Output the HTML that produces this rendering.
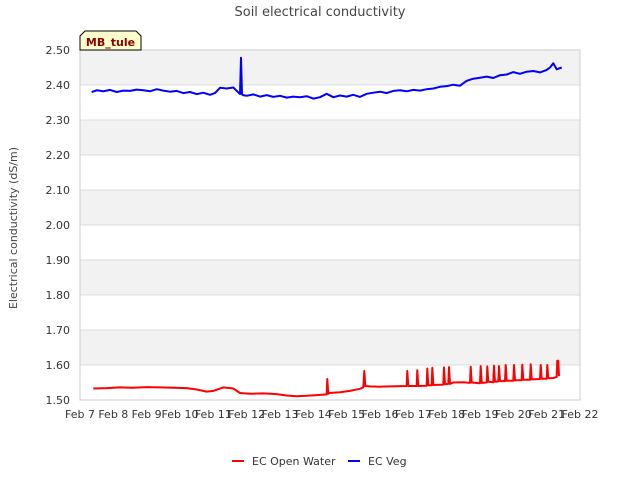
<!DOCTYPE html>
<html><head><meta charset="utf-8"><style>
body{margin:0;background:#fff;font-family:"DejaVu Sans","Liberation Sans",sans-serif;}
svg text{font-family:"DejaVu Sans","Liberation Sans",sans-serif;}
</style></head><body>
<svg id="chart" width="640" height="480" xmlns="http://www.w3.org/2000/svg">
<text x="320" y="16" text-anchor="middle" font-size="13" fill="#444">Soil electrical conductivity</text>
<g id="bands"></g><g id="grid"></g><g id="xticks"></g><g id="yticks"></g>
<rect x="80" y="50" width="500" height="350" fill="none" stroke="#ccc"/>
<g id="series"></g>
<text transform="translate(17,228) rotate(-90)" text-anchor="middle" font-size="11" fill="#444">Electrical conductivity (dS/m)</text>
<g>
<path d="M80,50 L80,36 L85,31 L136,31 L141,36 L141,50 Z" fill="#ffffcc" stroke="#000" stroke-width="1"/>
<text x="110.5" y="46" text-anchor="middle" font-size="11" font-weight="bold" fill="#8b0000">MB_tule</text>
</g>
<g>
<g><line x1="232" y1="461" x2="244" y2="461" stroke="#f00" stroke-width="2"/><text x="252" y="465" font-size="11" fill="#333">EC Open Water</text></g>
<g><line x1="348" y1="461" x2="360" y2="461" stroke="#00f" stroke-width="2"/><text x="368" y="465" font-size="11" fill="#333">EC Veg</text></g>
</g>
</svg>
<script>
const xTickLabels=["Feb 7","Feb 8","Feb 9","Feb 10","Feb 11","Feb 12","Feb 13","Feb 14","Feb 15","Feb 16","Feb 17","Feb 18","Feb 19","Feb 20","Feb 21","Feb 22"];
const xTickDays=[7,8,9,10,11,12,13,14,15,16,17,18,19,20,21,22];
const yTicks=[1.5,1.6,1.7,1.8,1.9,2.0,2.1,2.2,2.3,2.4,2.5];
const vegTime=[7.35,7.5,7.7,7.9,8.1,8.3,8.5,8.7,8.9,9.1,9.3,9.5,9.7,9.9,10.1,10.3,10.5,10.7,10.9,11.05,11.2,11.4,11.6,11.8,11.83,11.86,11.89,12.0,12.2,12.4,12.6,12.8,13.0,13.2,13.4,13.6,13.8,14.0,14.2,14.4,14.6,14.8,15.0,15.2,15.4,15.6,15.8,16.0,16.2,16.4,16.6,16.8,17.0,17.2,17.4,17.6,17.8,18.0,18.2,18.4,18.6,18.8,19.0,19.2,19.4,19.6,19.8,20.0,20.2,20.4,20.6,20.8,21.0,21.1,21.2,21.3,21.45];
const vegValues=[2.38,2.385,2.382,2.386,2.38,2.384,2.383,2.387,2.385,2.382,2.388,2.384,2.381,2.383,2.377,2.38,2.374,2.378,2.372,2.377,2.392,2.39,2.393,2.374,2.478,2.373,2.371,2.369,2.373,2.367,2.371,2.366,2.369,2.364,2.367,2.365,2.368,2.361,2.365,2.375,2.365,2.37,2.367,2.372,2.366,2.375,2.378,2.381,2.377,2.383,2.385,2.382,2.386,2.384,2.388,2.39,2.395,2.397,2.401,2.398,2.412,2.418,2.421,2.424,2.42,2.428,2.43,2.437,2.432,2.438,2.44,2.436,2.443,2.45,2.462,2.445,2.45];
const owTime=[7.4,7.8,8.2,8.6,9.0,9.4,9.8,10.2,10.5,10.8,11.0,11.3,11.6,11.8,12.1,12.5,12.9,13.2,13.5,13.8,14.1,14.4,14.42,14.45,14.48,14.8,15.1,15.4,15.5,15.53,15.56,15.7,16.0,16.3,16.8,16.82,16.85,17.1,17.12,17.15,17.4,17.42,17.45,17.55,17.57,17.6,17.9,17.92,17.95,18.05,18.07,18.1,18.2,18.5,18.7,18.72,18.75,19.0,19.02,19.05,19.2,19.22,19.25,19.4,19.42,19.45,19.55,19.57,19.6,19.75,19.77,19.8,20.0,20.02,20.05,20.25,20.27,20.3,20.5,20.52,20.55,20.8,20.82,20.85,21.0,21.02,21.05,21.2,21.3,21.32,21.35,21.37];
const owValues=[1.533,1.534,1.536,1.535,1.537,1.536,1.535,1.534,1.53,1.524,1.526,1.536,1.533,1.52,1.518,1.519,1.517,1.513,1.511,1.512,1.514,1.516,1.56,1.518,1.52,1.522,1.526,1.532,1.536,1.583,1.54,1.539,1.538,1.539,1.54,1.583,1.54,1.54,1.585,1.54,1.541,1.59,1.542,1.542,1.592,1.543,1.544,1.593,1.545,1.546,1.594,1.546,1.55,1.551,1.549,1.595,1.55,1.548,1.597,1.549,1.55,1.596,1.552,1.551,1.598,1.552,1.553,1.597,1.554,1.554,1.6,1.555,1.555,1.6,1.556,1.557,1.601,1.558,1.558,1.602,1.559,1.56,1.6,1.561,1.561,1.6,1.562,1.563,1.566,1.612,1.612,1.568];
const X=d=>80+(d-7)*500/15, Y=v=>400-(v-1.5)*350;
const NS="http://www.w3.org/2000/svg";
function mk(tag,attrs,parent,txt){const e=document.createElementNS(NS,tag);for(const k in attrs)e.setAttribute(k,attrs[k]);if(txt!==undefined)e.textContent=txt;document.getElementById(parent).appendChild(e);return e;}
for(let i=0;i<yTicks.length-1;i++){
  if(i%2===1){const r=mk('rect',{x:80,y:Y(yTicks[i+1]),width:500,height:Y(yTicks[i])-Y(yTicks[i+1]),fill:'#f2f2f2'},'bands');
  
  }
}
yTicks.forEach(v=>{
  const l=mk('line',{x1:80,x2:580,y1:Y(v),y2:Y(v),stroke:'#dcdcdc'},'grid');
  
  
  const t=mk('text',{x:70,y:Y(v)+4,'text-anchor':'end','font-size':11,fill:'#333'},'yticks',v.toFixed(2));
  
  
});
xTickDays.forEach((d,i)=>{
  const t=mk('text',{x:X(d),y:418,'text-anchor':'middle','font-size':11,fill:'#333'},'xticks',xTickLabels[i]);
  
  
});
function line(ts,vs,color,name){
  const p=mk('polyline',{points:ts.map((t,i)=>X(t).toFixed(1)+','+Y(vs[i]).toFixed(1)).join(' '),fill:'none',stroke:color,'stroke-width':2,'stroke-linejoin':'round'},'series');
  
  
}
line(owTime,owValues,'#f00','series-ec-open-water');
line(vegTime,vegValues,'#00f','series-ec-veg');
</script>
</body></html>
